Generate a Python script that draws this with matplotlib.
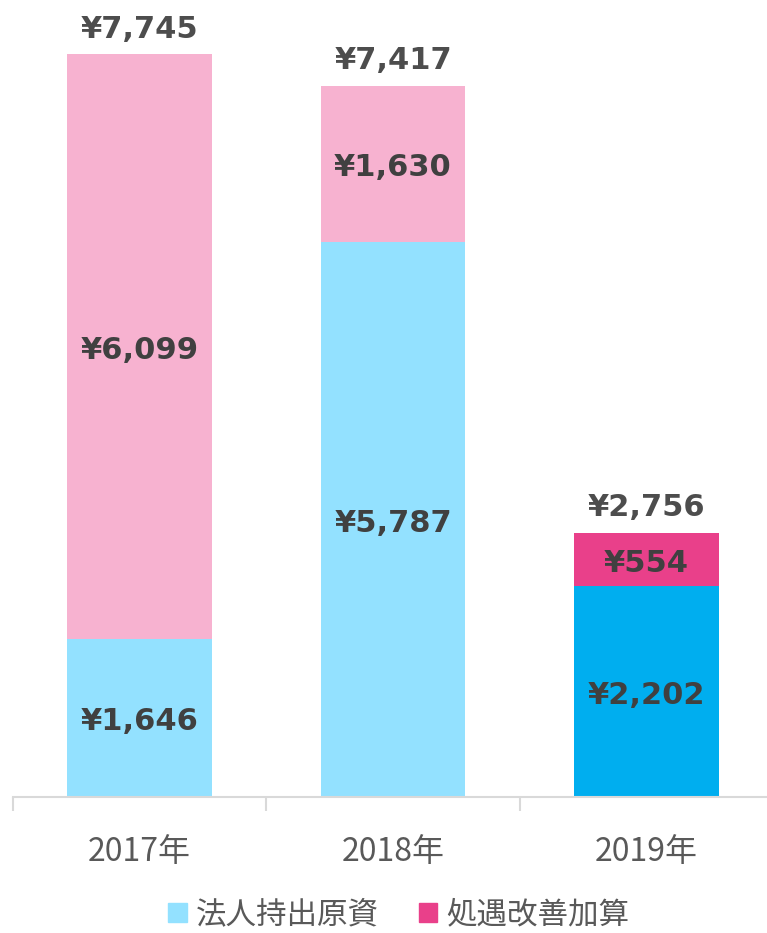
import matplotlib.pyplot as plt
import numpy as np

plt.rcParams['font.family'] = ['Noto Sans CJK JP', 'DejaVu Sans']

years = ['2017年', '2018年', '2019年']
base_vals = [1646, 5787, 2202]      # 法人持出原資
bonus_vals = [6099, 1630, 554]      # 処遇改善加算
totals = [7745, 7417, 2756]

base_colors = ['#93E1FF', '#93E1FF', '#00AEEF']
bonus_colors = ['#F7B2D0', '#F7B2D0', '#E9408A']
label_color = '#404040'

fig = plt.figure(figsize=(7.67, 9.33), dpi=100)
ax = fig.add_axes([13 / 767, 136 / 933, 760 / 767, 767 / 933])

x = np.arange(len(years))
ax.bar(x, base_vals, width=0.57, color=base_colors)
ax.bar(x, bonus_vals, width=0.57, bottom=base_vals, color=bonus_colors)

# small downward nudge so the labels sit like in the original
nudge = -40
for i in range(len(years)):
    ax.text(x[i], base_vals[i] / 2 + nudge, f'¥{base_vals[i]:,}', ha='center', va='center',
            fontsize=22, fontweight='bold', color=label_color, family='DejaVu Sans')
    ax.text(x[i], base_vals[i] + bonus_vals[i] / 2 + nudge, f'¥{bonus_vals[i]:,}', ha='center',
            va='center', fontsize=22, fontweight='bold', color=label_color, family='DejaVu Sans')
    ax.text(x[i], totals[i] + 110, f'¥{totals[i]:,}', ha='center', va='bottom',
            fontsize=22, fontweight='bold', color='#4d4d4d', family='DejaVu Sans')

ax.set_xlim(-0.5, 2.5)
ax.set_ylim(0, 8000)
for s in ['top', 'right', 'left']:
    ax.spines[s].set_visible(False)
ax.spines['bottom'].set_color('#d9d9d9')
ax.spines['bottom'].set_linewidth(1.5)
ax.set_yticks([])
ax.set_xticks([-0.5, 0.5, 1.5, 2.5])
ax.set_xticklabels([])
ax.set_xticks(x, minor=True)
ax.set_xticklabels(years, minor=True, fontsize=23, color='#595959')
ax.tick_params(axis='x', which='major', length=10, width=1.5, color='#d9d9d9')
ax.tick_params(axis='x', which='minor', length=0, pad=28)

handles = [plt.Rectangle((0, 0), 1, 1, color='#93E1FF'),
           plt.Rectangle((0, 0), 1, 1, color='#E9408A')]
fig.legend(handles, ['法人持出原資', '処遇改善加算'], loc='center', bbox_to_anchor=(0.52, 18 / 933),
           ncol=2, frameon=False, fontsize=22, labelcolor='#595959',
           handlelength=0.6, handleheight=0.6, handletextpad=0.3, columnspacing=1.3)

fig.savefig('out.png', dpi=100)
